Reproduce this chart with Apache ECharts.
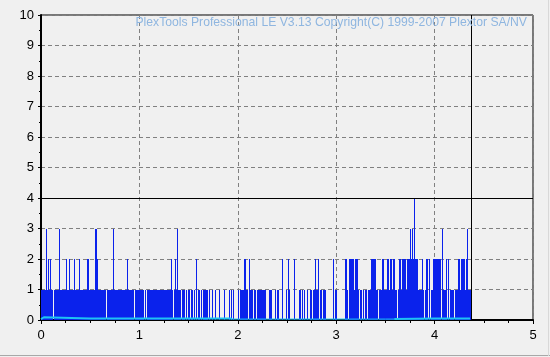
<!DOCTYPE html>
<html><head><meta charset="utf-8">
<script src="https://cdn.jsdelivr.net/npm/echarts@6/dist/echarts.min.js"></script>
<style>html,body{margin:0;padding:0;background:#f0f0f0}#c{width:550px;height:357px}</style>
</head><body><div id="c"></div>
<script>
// ---- data ----
const titleText = 'PlexTools Professional LE V3.13 Copyright(C) 1999-2007 Plextor SA/NV';
const xTickLabels = ['0', '1', '2', '3', '4', '5'];
const yTickLabels = ['0', '1', '2', '3', '4', '5', '6', '7', '8', '9', '10'];
const sampleStep = 0.01;           // one reading per 0.01 on the x axis, starting at 0
const seg0 = [1,1,1,1,1,1,3,1,2,1, 2,1,1,0,1,1,1,1,1,3, 1,1,1,1,1,1,2,1,1,2, 1,1,1,1,2,1,1,1,1,2, 1,1,1,1,1,1,1,2,2,1];
const seg1 = [1,1,1,1,1,3,3,2,1,1, 1,1,1,0,1,1,1,0,1,1, 1,1,1,1,3,1,1,1,1,1, 1,1,1,1,1,1,1,1,2,1, 1,1,1,1,1,0,1,1,1,1];
const seg2 = [1,1,1,1,1,0,1,0,1,1, 1,1,1,1,1,1,1,1,1,1, 1,1,1,1,1,1,1,1,1,1, 1,1,1,2,1,0,1,2,1,3, 1,1,1,0,1,1,1,0,1,0];
const seg3 = [1,1,0,1,1,0,1,0,2,0, 1,1,0,1,0,1,1,1,1,1, 0,1,0,0,1,0,0,1,0,0, 0,1,0,0,0,0,1,0,0,0, 0,0,1,0,1,0,1,0,0,0];
const seg4 = [0,1,0,1,1,1,1,2,2,1, 1,0,2,1,1,1,0,1,1,0, 1,1,1,1,1,1,1,1,1,0, 0,0,1,1,1,0,0,0,1,0, 1,1,0,0,0,2,0,0,0,1];
const seg5 = [0,0,2,1,0,0,0,0,2,0, 0,0,0,1,1,0,1,0,1,0, 0,1,0,0,1,1,0,1,1,2, 1,1,2,0,1,1,0,1,1,1, 0,0,0,0,0,0,0,2,0,1];
const seg6 = [1,0,0,0,0,0,0,0,0,2, 2,1,0,1,2,2,2,2,2,1, 2,2,2,1,0,1,1,0,1,0, 1,1,0,1,1,1,2,2,2,2, 2,1,1,0,1,1,1,2,2,1];
const seg7 = [1,1,2,2,1,2,2,1,2,2, 1,1,0,1,2,2,1,2,2,2, 2,1,2,2,2,3,2,2,3,2, 4,2,2,2,1,1,1,1,2,1, 0,1,2,2,0,2,0,1,1,2];
const seg8 = [2,2,2,2,2,2,2,0,3,1, 1,1,2,0,2,0,1,1,1,1, 0,1,1,1,2,2,1,2,2,2, 2,1,2,3,1,1,1];
const cyanX = [0, 0.01, 0.03, 0.05, 0.5, 1.0, 1.5, 1.93, 1.94, 2.5, 3.0, 3.5, 3.59, 3.6, 4.0, 4.36];
const cyanY = [0.03, 0.09, 0.09, 0.05, 0.05, 0.05, 0.05, 0.05, 0.03, 0.03, 0.03, 0.03, 0.03, 0.05, 0.05, 0.05];
const thinFrom = 1.94, thinTo = 3.59;   // part of the cyan trace that sits on the axis
const limitY = 4;
const endX = 4.365;

// ---- build ----
const values = [].concat(seg0, seg1, seg2, seg3, seg4, seg5, seg6, seg7, seg8);
const bars = values.map((v, i) => [+(i * sampleStep).toFixed(3), v]);
const cyanThick = cyanX.map((x, i) => (x <= thinFrom || x >= thinTo) ? [x, cyanY[i]] : [x, null]);
const cyanThin = cyanX.map((x, i) => (x >= thinFrom && x <= thinTo) ? [x, cyanY[i]] : [x, null]);
const barColor = '#0a22ec';

function renderBar(params, api) {
  const x = api.value(0), v = api.value(1);
  if (!v) return null;
  const lo = api.coord([x - sampleStep / 2, 0]);
  const hi = api.coord([x + sampleStep / 2, v]);
  const x0 = Math.round(lo[0]);
  const x1 = Math.max(Math.round(hi[0]), x0 + 1);
  const y0 = Math.round(lo[1]);
  const y1 = Math.round(hi[1]);
  return {type: 'rect', shape: {x: x0, y: y1, width: x1 - x0, height: y0 - y1}, style: {fill: barColor}};
}

const font = '"Liberation Sans", Arial, sans-serif';
const chart = echarts.init(document.getElementById('c'), null, {renderer: 'canvas'});
chart.setOption({
  animation: false,
  backgroundColor: '#f0f0f0',
  grid: {left: 41, right: 17, top: 15, bottom: 37, show: true, borderColor: '#000', borderWidth: 1, backgroundColor: 'transparent'},
  graphic: [
    {type: 'text', right: 23, top: 17, z: 10, style: {text: titleText, fill: '#8fb6e0', font: '12.2px ' + font}},
    {type: 'line', shape: {x1: 0, y1: 355.5, x2: 550, y2: 355.5}, style: {stroke: '#a8a8a8', lineWidth: 1}},
    {type: 'line', shape: {x1: 548.5, y1: 0, x2: 548.5, y2: 356}, style: {stroke: '#d8d8d8', lineWidth: 1}}
  ],
  xAxis: {
    type: 'value', min: 0, max: 5, interval: 1,
    axisLine: {show: true, onZero: false, lineStyle: {color: '#000', width: 2}},
    axisTick: {show: true, length: 4, lineStyle: {color: '#000'}},
    minorTick: {show: true, splitNumber: 4, length: 3, lineStyle: {color: '#000'}},
    axisLabel: {color: '#000', fontSize: 13, fontFamily: font, margin: 9,
      formatter: v => xTickLabels[Math.round(v)] ?? ''},
    splitLine: {show: true, lineStyle: {color: '#808080', type: [4, 3], width: 1}}
  },
  yAxis: {
    type: 'value', min: 0, max: 10, interval: 1,
    axisLine: {show: true, onZero: false, lineStyle: {color: '#000', width: 2}},
    axisTick: {show: true, length: 3, lineStyle: {color: '#000'}},
    minorTick: {show: true, splitNumber: 2, length: 2, lineStyle: {color: '#000'}},
    axisLabel: {color: '#000', fontSize: 13, fontFamily: font, margin: 7,
      formatter: v => yTickLabels[Math.round(v)] ?? ''},
    splitLine: {show: true, lineStyle: {color: '#808080', type: [4, 3], width: 1}}
  },
  series: [
    {
      type: 'custom', data: bars, renderItem: renderBar, z: 2,
      encode: {x: 0, y: 1}
    },
    {
      type: 'line', data: [], symbol: 'none', z: 4,
      markLine: {
        silent: true, symbol: 'none', label: {show: false},
        lineStyle: {color: '#000', type: 'solid', width: 1},
        data: [{yAxis: limitY}, {xAxis: endX}]
      }
    },
    {type: 'line', data: cyanThick, symbol: 'none', connectNulls: false,
      lineStyle: {color: '#1ec4f2', width: 2}, z: 3},
    {type: 'line', data: cyanThin, symbol: 'none', connectNulls: false,
      lineStyle: {color: '#1ec4f2', width: 1}, z: 3}
  ]
});
</script></body></html>
